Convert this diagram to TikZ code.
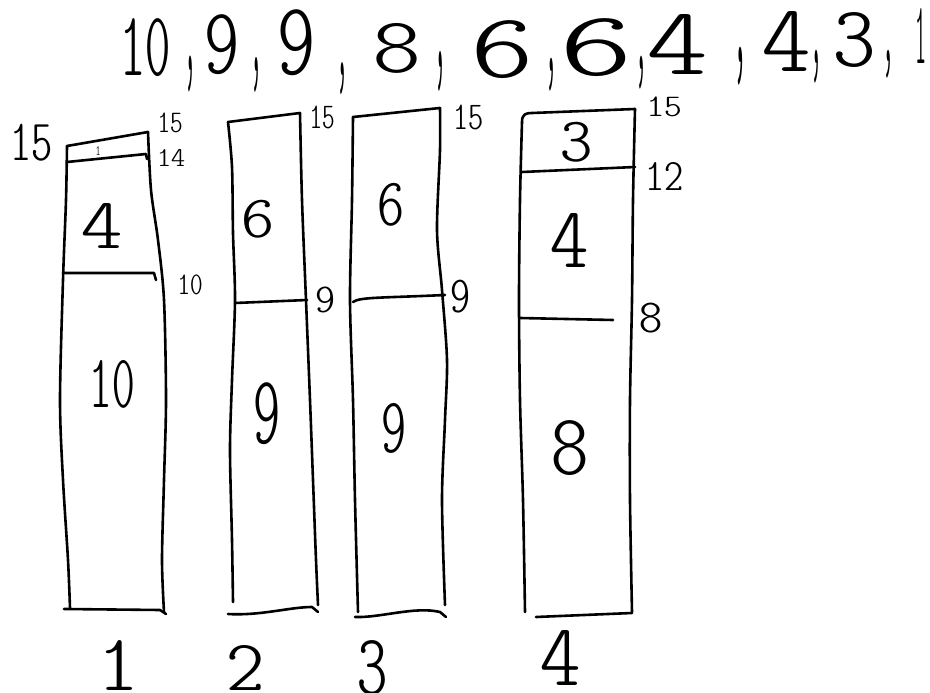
\documentclass[tikz,border=0pt]{standalone}
\usepackage{fontspec}
\usepackage{graphicx}
\newfontfamily\handfont{lmmonoltcond10-regular.otf}
\newcommand{\hw}[3]{\resizebox*{#1pt}{#2pt}{\handfont #3}}
\begin{document}
\begin{tikzpicture}[x=1pt,y=-1pt,
  pen/.style={line width=2.6pt,line cap=round,line join=round},
  txt/.style={inner sep=0pt,outer sep=0pt}]
\fill[white] (0,0) rectangle (930,693);
\useasboundingbox (0,0) rectangle (930,693);

% ---------- list of item sizes ----------
\node[txt] (l1) at (145,48) {\hw{50}{58}{10}};
\node[txt] (c1) at (190,74) {\hw{12}{36}{,}};
\node[txt] (l2) at (222,45) {\hw{35}{60}{9}};
\node[txt] (c2) at (256,75) {\hw{12}{35}{,}};
\node[txt] (l3) at (296,43) {\hw{38}{66}{9}};
\node[txt] (c3) at (342,79) {\hw{12}{32}{,}};
\node[txt] (l4) at (397,48) {\hw{47}{50}{8}};
\node[txt] (c4) at (440,71) {\hw{12}{40}{,}};
\node[txt] (l5) at (502,50) {\hw{62}{58}{6}};
\node[txt] (c5) at (551,75) {\hw{12}{33}{,}};
\node[txt] (l6) at (596,48) {\hw{72}{58}{6}};
\node[txt] (c6) at (641,73) {\hw{12}{33}{,}};
\node[txt] (l7) at (677,45) {\hw{60}{60}{4}};
\node[txt] (c7) at (740,66) {\hw{14}{38}{,}};
\node[txt] (l8) at (786,42) {\hw{48}{60}{4}};
\node[txt] (c8) at (816,67) {\hw{12}{33}{,}};
\node[txt] (l9) at (854,40) {\hw{42}{55}{3}};
\node[txt] (c9) at (888,64) {\hw{12}{28}{,}};
\node[txt] (l10) at (921,36) {\hw{11}{55}{1}};

% ---------- bin 1 ----------
\draw[pen] (67,146) -- (148,132);
\draw[pen] plot[smooth,tension=0.5] coordinates {(67,146) (66,200) (63,280) (60,400) (63,480) (68,560) (70,608)};
\draw[pen] plot[smooth,tension=0.5] coordinates {(148,132) (151,190) (158,240) (164,300) (166,400) (164,480) (162,560) (164,612)};
\draw[pen] (64,609) -- (160,610) -- (166,614);
\draw[pen] (67,162) -- (146,154) -- (147,159);
\draw[pen] (63,273) -- (154,273) -- (156,280);
\node[txt] (a15) at (31,143) {\hw{42}{37}{15}};
\node[txt] (a15s) at (170,123) {\hw{25}{20}{15}};
\node[txt] (a14) at (171,158) {\hw{28}{17}{14}};
\node[txt] (a10s) at (190,285) {\hw{25}{20}{10}};
\node[txt] (a1) at (98,151) {\hw{5}{9}{1}};
\node[txt] (a4) at (102,226) {\hw{41}{45}{4}};
\node[txt] (a10) at (112,384) {\hw{45}{48}{10}};
\node[txt] (n1) at (118,665) {\hw{40}{50}{1}};

% ---------- bin 2 ----------
\draw[pen] (228,122) -- (300,113);
\draw[pen] plot[smooth,tension=0.5] coordinates {(228,122) (232,167) (233,233) (235,300) (232,380) (230,450) (232,540) (233,602)};
\draw[pen] plot[smooth,tension=0.5] coordinates {(300,113) (302,200) (306,300) (310,400) (313,480) (316,560) (318,605)};
\draw[pen] (228,614) .. controls (260,616) and (290,607) .. (312,607) -- (318,612);
\draw[pen] (235,303) -- (307,300);
\node[txt] (b15) at (322,117) {\hw{25}{23}{15}};
\node[txt] (b9s) at (325,300) {\hw{20}{26}{9}};
\node[txt] (b6) at (258,219) {\hw{33}{38}{6}};
\node[txt] (b9) at (267,414) {\hw{27}{62}{9}};
\node[txt] (n2) at (245,668) {\hw{38}{45}{2}};

% ---------- bin 3 ----------
\draw[pen] (353,117) -- (440,108);
\draw[pen] plot[smooth,tension=0.5] coordinates {(353,117) (352,200) (350,300) (353,400) (355,500) (358,612)};
\draw[pen] plot[smooth,tension=0.5] coordinates {(440,108) (440,150) (437,230) (442,290) (447,360) (445,420) (442,500) (445,605)};
\draw[pen] (355,617) .. controls (380,618) and (415,606) .. (440,612) -- (446,617);
\draw[pen] (353,302) .. controls (360,297) and (380,298) .. (445,295);
\node[txt] (c15) at (468,117) {\hw{30}{25}{15}};
\node[txt] (c9s) at (460,297) {\hw{20}{33}{9}};
\node[txt] (c6b) at (391,205) {\hw{27}{43}{6}};
\node[txt] (c9b) at (394,428) {\hw{25}{50}{9}};
\node[txt] (n3) at (372,668) {\hw{30}{55}{3}};

% ---------- bin 4 ----------
\draw[pen] (522,122) .. controls (522,114) and (526,113) .. (532,113) -- (635,109);
\draw[pen] plot[smooth,tension=0.5] coordinates {(522,122) (520,200) (519,300) (520,400) (523,500) (525,612)};
\draw[pen] plot[smooth,tension=0.5] coordinates {(635,109) (633,200) (632,300) (630,400) (630,500) (632,612)};
\draw[pen] (536,617) -- (632,613);
\draw[pen] (522,172) -- (635,167);
\draw[pen] (520,318) -- (613,320);
\node[txt] (d15) at (664,107) {\hw{35}{20}{15}};
\node[txt] (d12) at (664,176) {\hw{38}{28}{12}};
\node[txt] (d8s) at (651,318) {\hw{23}{30}{8}};
\node[txt] (d3) at (576,142) {\hw{32}{40}{3}};
\node[txt] (d4) at (569,240) {\hw{38}{54}{4}};
\node[txt] (d8) at (570,448) {\hw{37}{55}{8}};
\node[txt] (n4) at (560,658) {\hw{40}{55}{4}};
\end{tikzpicture}
\end{document}
